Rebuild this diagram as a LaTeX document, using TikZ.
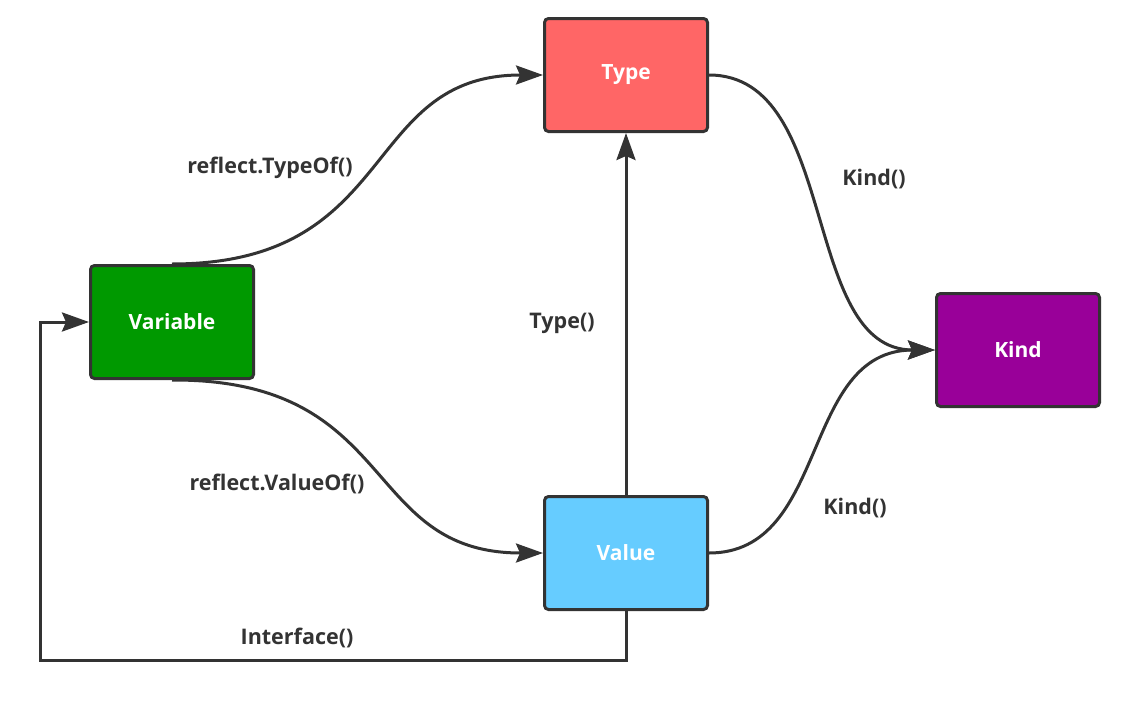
\documentclass[tikz,border=0pt]{standalone}
\usepackage{fontspec}
\setmainfont{Open Sans}
\usetikzlibrary{arrows.meta}
\definecolor{ink}{HTML}{333333}
\definecolor{typec}{HTML}{FF6666}
\definecolor{varc}{HTML}{009900}
\definecolor{kindc}{HTML}{990099}
\definecolor{valc}{HTML}{66CCFF}
\tikzset{
  box/.style={draw=ink, line width=3pt, rounded corners=4pt, minimum width=163pt, minimum height=113pt, text=white, font=\bfseries\fontsize{21}{24}\selectfont},
  conn/.style={draw=ink, line width=3pt, -{Stealth[length=27pt,width=19pt,inset=4pt]}},
  lbl/.style={text=ink, font=\bfseries\fontsize{21.5}{24}\selectfont},
}
\begin{document}
\begin{tikzpicture}[x=1pt,y=-1pt]
\useasboundingbox (0,0) rectangle (1135,704);
\node[box, fill=typec] (type) at (626,75) {Type};
\node[box, fill=varc] (var) at (172,322) {Variable};
\node[box, fill=kindc] (kind) at (1018,350) {Kind};
\node[box, fill=valc] (val) at (626,553) {Value};
\coordinate (c1) at (626,660);
\coordinate (c2) at (40,660);
\coordinate (c3) at (40,322);
\draw[conn] (var.north) .. controls (400,264) and (360,75) .. (type.west);
\draw[conn] (var.south) .. controls (400,379) and (360,553) .. (val.west);
\draw[conn] (val.north) -- (type.south);
\draw[conn] (type.east) .. controls (840,75) and (800,350) .. (kind.west);
\draw[conn] (val.east) .. controls (830,553) and (800,350) .. (kind.west);
\draw[conn] (val.south) -- (c1) -- (c2) -- (c3) -- (var.west);
\node[lbl] (l1) at (270,168) {reflect.TypeOf()};
\node[lbl] (l2) at (277,484) {reflect.ValueOf()};
\node[lbl] (l3) at (562,323) {Type()};
\node[lbl] (l4) at (874,179) {Kind()};
\node[lbl] (l5) at (855,508) {Kind()};
\node[lbl] (l6) at (297,638) {Interface()};
\end{tikzpicture}
\end{document}
